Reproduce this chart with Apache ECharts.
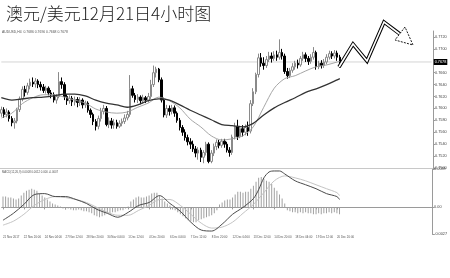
<!DOCTYPE html>
<html>
<head>
<meta charset="utf-8">
<script src="https://cdn.jsdelivr.net/npm/echarts@6/dist/echarts.min.js"></script>
<style>
  html, body { margin: 0; padding: 0; background: #fff; }
  #c { width: 450px; height: 278px; }
</style>
</head>
<body>
<div id="c"></div>
<script>
// ---- chart text ----
const chartTitle = '澳元/美元12月21日4小时图';
const symbolName = 'AUDUSD,H4';
const macdName = 'MACD(12,26,9)';

// ---- time axis labels, one every 8 four-hour bars ----
const timeTicks = ['21 Nov 2017', '22 Nov 20:00', '24 Nov 04:00', '27 Nov 12:00', '28 Nov 20:00',
  '30 Nov 04:00', '1 Dec 12:00', '4 Dec 20:00', '6 Dec 04:00', '7 Dec 12:00', '8 Dec 20:00',
  '12 Dec 04:00', '13 Dec 12:00', '14 Dec 20:00', '18 Dec 04:00', '19 Dec 12:00', '20 Dec 20:00'];
const barsPerTick = 8;
const slotCount = 165; // bar slots across the window, incl. empty space on the right

// ---- price scale labels ----
const priceTicks = [0.7500, 0.7520, 0.7540, 0.7560, 0.7580, 0.7600, 0.7620, 0.7640, 0.7660, 0.7680, 0.7700, 0.7720];
const macdTicks = [-0.0027, 0, 0.0039];

// ---- 4h candles: [open, close, low, high] ----
const candles = [
  [0.7592,0.7598,0.7586,0.7603],[0.7598,0.7590,0.7584,0.7602],[0.7590,0.7594,0.7585,0.7600],[0.7594,0.7583,0.7578,0.7597],
  [0.7583,0.7576,0.7570,0.7587],[0.7576,0.7579,0.7566,0.7584],[0.7579,0.7598,0.7575,0.7601],[0.7598,0.7616,0.7594,0.7620],
  [0.7616,0.7632,0.7612,0.7637],[0.7632,0.7627,0.7620,0.7638],[0.7627,0.7638,0.7623,0.7643],[0.7638,0.7644,0.7632,0.7650],
  [0.7644,0.7641,0.7636,0.7652],[0.7641,0.7646,0.7635,0.7651],[0.7646,0.7640,0.7634,0.7649],[0.7640,0.7636,0.7630,0.7645],
  [0.7636,0.7630,0.7626,0.7641],[0.7630,0.7634,0.7625,0.7638],[0.7634,0.7626,0.7622,0.7637],[0.7626,0.7623,0.7617,0.7631],
  [0.7623,0.7614,0.7610,0.7627],[0.7614,0.7620,0.7608,0.7624],[0.7620,0.7645,0.7617,0.7661],[0.7645,0.7640,0.7633,0.7652],
  [0.7640,0.7620,0.7614,0.7644],[0.7620,0.7613,0.7606,0.7624],[0.7613,0.7617,0.7608,0.7622],[0.7617,0.7611,0.7604,0.7621],
  [0.7611,0.7615,0.7605,0.7620],[0.7615,0.7610,0.7602,0.7619],[0.7610,0.7614,0.7604,0.7619],[0.7614,0.7606,0.7600,0.7617],
  [0.7606,0.7609,0.7601,0.7613],[0.7609,0.7597,0.7593,0.7612],[0.7597,0.7590,0.7584,0.7600],[0.7590,0.7578,0.7572,0.7593],
  [0.7578,0.7570,0.7563,0.7582],[0.7570,0.7583,0.7565,0.7588],[0.7583,0.7595,0.7578,0.7601],[0.7595,0.7600,0.7590,0.7606],
  [0.7600,0.7573,0.7570,0.7604],[0.7573,0.7579,0.7567,0.7585],[0.7579,0.7572,0.7566,0.7584],[0.7572,0.7576,0.7566,0.7582],
  [0.7576,0.7570,0.7566,0.7581],[0.7570,0.7575,0.7567,0.7580],[0.7575,0.7578,0.7570,0.7583],[0.7578,0.7584,0.7574,0.7590],
  [0.7584,0.7590,0.7580,0.7596],[0.7590,0.7633,0.7586,0.7656],[0.7633,0.7622,0.7618,0.7638],[0.7622,0.7615,0.7610,0.7626],
  [0.7615,0.7619,0.7609,0.7624],[0.7619,0.7613,0.7607,0.7622],[0.7613,0.7618,0.7608,0.7623],[0.7618,0.7614,0.7609,0.7621],
  [0.7614,0.7620,0.7610,0.7626],[0.7620,0.7640,0.7616,0.7648],[0.7640,0.7660,0.7636,0.7672],[0.7660,0.7666,0.7652,0.7670],
  [0.7666,0.7648,0.7644,0.7668],[0.7648,0.7614,0.7610,0.7652],[0.7614,0.7589,0.7585,0.7618],[0.7589,0.7600,0.7584,0.7606],
  [0.7600,0.7595,0.7588,0.7605],[0.7595,0.7601,0.7590,0.7606],[0.7601,0.7592,0.7586,0.7605],[0.7592,0.7580,0.7576,0.7595],
  [0.7580,0.7568,0.7563,0.7584],[0.7568,0.7560,0.7554,0.7572],[0.7560,0.7551,0.7546,0.7565],[0.7551,0.7544,0.7538,0.7556],
  [0.7544,0.7540,0.7532,0.7550],[0.7540,0.7532,0.7527,0.7546],[0.7532,0.7525,0.7518,0.7537],[0.7525,0.7530,0.7514,0.7535],
  [0.7530,0.7518,0.7510,0.7534],[0.7518,0.7526,0.7508,0.7530],[0.7526,0.7540,0.7521,0.7544],[0.7540,0.7511,0.7508,0.7543],
  [0.7511,0.7525,0.7508,0.7530],[0.7525,0.7536,0.7520,0.7541],[0.7536,0.7543,0.7530,0.7548],[0.7543,0.7538,0.7533,0.7547],
  [0.7538,0.7545,0.7534,0.7549],[0.7545,0.7540,0.7534,0.7549],[0.7540,0.7530,0.7526,0.7544],[0.7530,0.7526,0.7519,0.7535],
  [0.7526,0.7552,0.7522,0.7556],[0.7552,0.7570,0.7548,0.7576],[0.7570,0.7553,0.7547,0.7581],[0.7553,0.7566,0.7550,0.7571],
  [0.7566,0.7560,0.7553,0.7572],[0.7560,0.7568,0.7555,0.7573],[0.7568,0.7562,0.7554,0.7578],[0.7562,0.7608,0.7558,0.7614],
  [0.7608,0.7628,0.7604,0.7634],[0.7628,0.7657,0.7624,0.7660],[0.7657,0.7685,0.7652,0.7692],[0.7685,0.7676,0.7670,0.7693],
  [0.7676,0.7672,0.7665,0.7686],[0.7672,0.7682,0.7668,0.7688],[0.7682,0.7688,0.7678,0.7695],[0.7688,0.7684,0.7677,0.7694],
  [0.7684,0.7690,0.7680,0.7696],[0.7690,0.7686,0.7680,0.7697],[0.7686,0.7694,0.7682,0.7716],[0.7694,0.7688,0.7682,0.7700],
  [0.7688,0.7662,0.7658,0.7692],[0.7662,0.7655,0.7650,0.7668],[0.7655,0.7664,0.7651,0.7668],[0.7664,0.7670,0.7660,0.7676],
  [0.7670,0.7676,0.7665,0.7680],[0.7676,0.7673,0.7667,0.7682],[0.7673,0.7684,0.7670,0.7688],[0.7684,0.7690,0.7680,0.7695],
  [0.7690,0.7684,0.7678,0.7694],[0.7684,0.7679,0.7673,0.7688],[0.7679,0.7686,0.7675,0.7691],[0.7686,0.7694,0.7682,0.7703],
  [0.7694,0.7670,0.7665,0.7697],[0.7670,0.7676,0.7666,0.7680],[0.7676,0.7672,0.7667,0.7681],[0.7672,0.7678,0.7668,0.7683],
  [0.7678,0.7686,0.7674,0.7691],[0.7686,0.7692,0.7682,0.7697],[0.7692,0.7688,0.7683,0.7696],[0.7688,0.7693,0.7684,0.7698],
  [0.7693,0.7686,0.7680,0.7697],[0.7686,0.7678,0.7668,0.7690]
];

// ---- moving averages, [bar index, value] ----
const maFast = [
  [0,0.7584],[4,0.7592],[8,0.7608],[12,0.7618],[16,0.7623],[20,0.7623],[24,0.7619],[28,0.7614],
  [32,0.7609],[36,0.7599],[40,0.7594],[44,0.7592],[48,0.7594],[52,0.7602],[56,0.7609],[60,0.7619],
  [64,0.7613],[68,0.7601],[72,0.7582],[76,0.7569],[80,0.7554],[84,0.7547],[88,0.7549],[92,0.7554],
  [96,0.7569],[100,0.7602],[104,0.7634],[108,0.7650],[112,0.7655],[116,0.7663],[120,0.7670],[124,0.7673],
  [128,0.7678],[129,0.7679]
];
const maSlow = [
  [0,0.7618],[4,0.7614],[8,0.7616],[12,0.7618],[16,0.7619],[20,0.7621],[24,0.7624],[28,0.7624],
  [32,0.7621],[36,0.7614],[40,0.7609],[44,0.7606],[48,0.7602],[52,0.7606],[56,0.7613],[60,0.7616],
  [64,0.7614],[68,0.7606],[72,0.7597],[76,0.7589],[80,0.7581],[84,0.7573],[88,0.7571],[92,0.7569],
  [96,0.7575],[100,0.7589],[104,0.7601],[108,0.7610],[112,0.7618],[116,0.7627],[120,0.7633],[124,0.7640],
  [128,0.7648],[129,0.7650]
];

// ---- MACD panel ----
const macdMain = [
  [0,-0.0013],[4,-0.0006],[8,0.0003],[12,0.0013],[16,0.0014],[20,0.0011],[24,0.0011],[28,0.0008],
  [32,0.0004],[36,-0.0002],[40,-0.0006],[44,-0.0010],[48,-0.0005],[52,0.0002],[56,0.0005],[60,0.0012],
  [64,0.0004],[68,-0.0004],[72,-0.0015],[76,-0.0023],[80,-0.0024],[84,-0.0017],[88,-0.0007],[92,0.0000],
  [96,0.0009],[98,0.0018],[100,0.0030],[102,0.0036],[104,0.0037],[106,0.0037],[108,0.0034],[112,0.0027],
  [116,0.0023],[120,0.0019],[124,0.0014],[128,0.0011],[129,0.0008]
];
const macdSignal = [
  [0,-0.0018],[4,-0.0014],[8,-0.0007],[12,0.0002],[16,0.0008],[20,0.0011],[24,0.0010],[28,0.0008],
  [32,0.0005],[36,0.0000],[40,-0.0005],[44,-0.0008],[48,-0.0008],[52,-0.0003],[56,0.0002],[60,0.0008],
  [64,0.0008],[68,0.0002],[72,-0.0007],[76,-0.0016],[80,-0.0021],[84,-0.0020],[88,-0.0015],[92,-0.0006],
  [96,0.0003],[100,0.0015],[104,0.0027],[108,0.0032],[112,0.0030],[116,0.0027],[120,0.0023],[124,0.0019],
  [128,0.0015],[129,0.0012]
];
const macdHist = [
  0.0011,0.0011,0.0010,0.0010,0.0009,0.0008,0.0009,0.0012,0.0015,0.0017,
  0.0018,0.0019,0.0018,0.0017,0.0014,0.0012,0.0010,0.0008,0.0006,0.0004,
  0.0003,0.0002,0.0001,-0.0001,-0.0002,-0.0001,-0.0002,-0.0003,-0.0003,-0.0002,
  -0.0003,-0.0004,-0.0004,-0.0005,-0.0006,-0.0008,-0.0009,-0.0010,-0.0009,-0.0008,
  -0.0006,-0.0006,-0.0005,-0.0005,-0.0004,-0.0003,-0.0003,-0.0001,0.0001,0.0006,
  0.0008,0.0010,0.0011,0.0010,0.0010,0.0011,0.0012,0.0014,0.0015,0.0015,
  0.0012,0.0009,0.0006,0.0004,0.0002,-0.0002,-0.0003,-0.0005,-0.0007,-0.0009,
  -0.0011,-0.0013,-0.0014,-0.0015,-0.0015,-0.0013,-0.0012,-0.0011,-0.0010,-0.0009,
  -0.0008,-0.0006,-0.0003,0.0003,0.0005,0.0007,0.0008,0.0008,0.0010,0.0013,
  0.0016,0.0016,0.0015,0.0016,0.0016,0.0019,0.0022,0.0026,0.0030,0.0031,
  0.0029,0.0027,0.0026,0.0024,0.0020,0.0017,0.0013,0.0009,0.0004,-0.0003,
  -0.0004,-0.0005,-0.0005,-0.0006,-0.0005,-0.0006,-0.0005,-0.0006,-0.0006,-0.0007,
  -0.0007,-0.0006,-0.0007,-0.0006,-0.0006,-0.0005,-0.0006,-0.0005,-0.0006,-0.0007
];

// ---- build the chart ----
const slots = Array.from({ length: slotCount }, (_, i) => i);
const last = candles[candles.length - 1];
const lastClose = last[1];
const f4 = v => v.toFixed(4);
const lastOf = arr => arr[arr.length - 1][1];
const headerText = `${symbolName}  ${f4(last[0])} ${f4(last[3])} ${f4(last[2])} ${f4(last[1])}`;
const macdText = `${macdName} ${f4(lastOf(macdMain))} ${f4(lastOf(macdSignal))} 0.000 ${f4(macdHist[macdHist.length - 1])}`;
// horizontal bid line across the whole window at the last close
const bidLine = [[0, lastClose], [slotCount - 1, lastClose]];

const smallFont = '"Liberation Sans", Arial, sans-serif';
const axisGrey = '#9a9a9a';

const chart = echarts.init(document.getElementById('c'), null, { renderer: 'canvas' });

chart.setOption({
  animation: false,
  backgroundColor: '#ffffff',
  title: {
    text: chartTitle,
    left: 6, top: 5, padding: 0,
    textStyle: {
      fontFamily: '"Noto Sans CJK SC Light", "Noto Sans CJK SC DemiLight", "Noto Sans CJK SC", sans-serif',
      fontSize: 17, fontWeight: 300, color: '#1a1a1a'
    }
  },
  grid: [
    { left: 0, right: 17, top: 31, bottom: 110 },
    { left: 0, right: 17, top: 169, bottom: 44 }
  ],
  xAxis: [
    {
      type: 'category', gridIndex: 0, data: slots, boundaryGap: true,
      axisLine: { show: true, lineStyle: { color: '#c8c8c8', width: 1 } },
      axisTick: { show: false }, axisLabel: { show: false }, splitLine: { show: false }
    },
    {
      type: 'category', gridIndex: 1, data: slots, boundaryGap: true,
      axisLine: { show: true, lineStyle: { color: axisGrey, width: 1 } },
      axisTick: {
        show: true, length: 2, alignWithLabel: true,
        interval: i => i % barsPerTick === 0 && i / barsPerTick < timeTicks.length,
        lineStyle: { color: axisGrey }
      },
      axisLabel: {
        show: true, align: 'left', margin: 2, fontSize: 2.9, color: '#555', fontFamily: smallFont,
        interval: i => i % barsPerTick === 0 && i / barsPerTick < timeTicks.length,
        formatter: (v, i) => timeTicks[i / barsPerTick] || ''
      },
      splitLine: { show: false }
    }
  ],
  yAxis: [
    {
      type: 'value', gridIndex: 0, position: 'right', min: 0.7500, max: 0.7730,
      axisLine: { show: true, lineStyle: { color: axisGrey, width: 1 } },
      axisTick: { show: true, length: 2, customValues: priceTicks, lineStyle: { color: axisGrey } },
      axisLabel: {
        show: true, customValues: priceTicks, margin: 2, fontSize: 3.8, color: '#444', fontFamily: smallFont,
        formatter: v => f4(v)
      },
      splitLine: { show: false }
    },
    {
      type: 'value', gridIndex: 1, position: 'right', min: macdTicks[0], max: macdTicks[2],
      axisLine: { show: true, lineStyle: { color: axisGrey, width: 1 } },
      axisTick: { show: true, length: 2, customValues: macdTicks, lineStyle: { color: axisGrey } },
      axisLabel: {
        show: true, customValues: macdTicks, margin: 2, fontSize: 3.8, color: '#444', fontFamily: smallFont,
        formatter: v => (v === 0 ? '0.00' : f4(v))
      },
      splitLine: { show: false }
    }
  ],
  series: [
    {
      type: 'line', xAxisIndex: 0, yAxisIndex: 0, data: bidLine, showSymbol: false, silent: true,
      lineStyle: { color: '#d4d4d4', width: 1 }, z: 1,
      endLabel: {
        show: true, distance: 2, formatter: () => f4(lastClose),
        fontSize: 3.8, fontFamily: smallFont, color: '#fff', backgroundColor: '#000', padding: [1, 1]
      }
    },
    {
      type: 'candlestick', xAxisIndex: 0, yAxisIndex: 0, data: candles, barWidth: 2,
      itemStyle: {
        color: '#ffffff', borderColor: '#8a8a8a',
        color0: '#000000', borderColor0: '#000000', borderWidth: 1
      },
      z: 3
    },
    {
      type: 'line', xAxisIndex: 0, yAxisIndex: 0, data: maFast, smooth: 0.3,
      showSymbol: false, lineStyle: { color: '#9c9c9c', width: 0.9 }, z: 4
    },
    {
      type: 'line', xAxisIndex: 0, yAxisIndex: 0, data: maSlow, smooth: 0.3,
      showSymbol: false, lineStyle: { color: '#333333', width: 1.3 }, z: 4
    },
    {
      type: 'bar', xAxisIndex: 1, yAxisIndex: 1, data: macdHist, barWidth: 1,
      itemStyle: { color: '#a0a0a0' }, z: 2
    },
    {
      type: 'line', xAxisIndex: 1, yAxisIndex: 1, data: macdSignal, smooth: 0.3,
      showSymbol: false, lineStyle: { color: '#c4c4c4', width: 1 }, z: 3
    },
    {
      type: 'line', xAxisIndex: 1, yAxisIndex: 1, data: macdMain, smooth: 0.3,
      showSymbol: false, lineStyle: { color: '#4a4a4a', width: 1 }, z: 4
    }
  ],
  graphic: [
    {
      type: 'text', left: 2, top: 31,
      style: { text: headerText, fontSize: 3.4, fontFamily: smallFont, fill: '#555' }
    },
    {
      type: 'text', left: 2, top: 171,
      style: { text: macdText, fontSize: 2.8, fontFamily: smallFont, fill: '#555' }
    },
    // hollow zig-zag forecast arrow
    {
      type: 'polyline', z: 50,
      shape: { points: [[339, 67], [353, 44], [367, 61], [384, 22], [400, 34]] },
      style: { stroke: '#000', lineWidth: 3.6, fill: null, lineJoin: 'miter' }
    },
    {
      type: 'polyline', z: 51,
      shape: { points: [[339, 67], [353, 44], [367, 61], [384, 22], [401, 35]] },
      style: { stroke: '#fff', lineWidth: 1.6, fill: null, lineJoin: 'miter' }
    },
    {
      type: 'polygon', z: 52,
      shape: { points: [[405, 27], [395, 40], [413, 45]] },
      style: { stroke: '#000', lineWidth: 0.9, fill: '#fff', lineDash: [2, 1.2] }
    }
  ]
});
</script>
</body>
</html>
